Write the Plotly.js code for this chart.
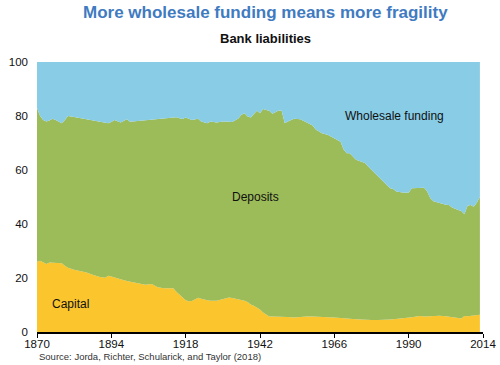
<!DOCTYPE html>
<html>
<head>
<meta charset="utf-8">
<script src="https://cdn.plot.ly/plotly-3.0.1.min.js"></script>
<style>html,body{margin:0;padding:0;background:#fff;}#chart{width:500px;height:365px;}</style>
</head>
<body>
<div id="chart"></div>
<script>
const years = [1870,1871,1872,1873,1874,1875,1876,1878,1879,1880,1882,1884,1886,1888,1890,1892,1893,1894,1895,1897,1899,1900,1901,1903,1905,1907,1909,1911,1914,1915,1916,1917,1918,1919,1920,1922,1923,1925,1926,1928,1930,1932,1933,1935,1936,1937,1938,1939,1940,1941,1942,1943,1944,1945,1946,1947,1948,1949,1950,1951,1953,1955,1957,1959,1960,1962,1964,1966,1968,1969,1970,1971,1973,1975,1976,1977,1978,1980,1982,1984,1985,1986,1988,1990,1991,1993,1994,1995,1996,1997,1998,2000,2002,2003,2004,2006,2007,2008,2009,2010,2011,2012,2013];
// Share of capital (% of liabilities)
const capital = [26,26.4,25.8,25.2,25.7,25.6,25.5,25.5,24.5,23.8,23.1,22.6,22,21.2,20.5,20.1,20.8,20.6,20.2,19.5,18.9,18.7,18.4,18,17.5,17.8,16.6,16.2,16.2,14.9,13.8,12.7,11.8,11.4,11.5,12.7,12.3,11.8,11.6,11.6,12.2,12.8,12.6,12.1,11.9,11.6,11.1,10.2,9.7,9,8.3,7.2,6.4,5.7,5.7,5.7,5.6,5.6,5.7,5.6,5.4,5.6,5.7,5.7,5.7,5.6,5.5,5.4,5.1,5,4.9,4.9,4.7,4.5,4.5,4.4,4.4,4.4,4.4,4.6,4.7,4.8,5.1,5.4,5.5,5.8,5.9,5.7,5.8,5.9,6,6,5.8,5.7,5.5,5.2,5,5.9,5.8,6,6.1,6.3,6.4];
// Capital + deposits (% of liabilities)
const capitalPlusDeposits = [83,80,78.5,78,78.3,79,78.5,77.3,78.5,80,79.6,79.2,78.7,78.3,77.9,77.5,77.3,77.8,78.5,77.6,78.8,77.9,78,78.3,78.4,78.6,78.8,79,79.3,79.5,79.2,78.9,79.4,79,78.5,79,78,77.3,78,77.6,78,77.9,77.8,79.1,80.5,81,79.8,79.4,80.5,81.9,81,82.6,82.2,81.9,80.8,81.5,82,81.9,77.3,78,79,78.8,77.8,76.5,75,73.6,73,71.8,70.5,67.6,66.2,66.2,63.8,63,62.5,61.2,60,57.8,55.5,53.2,53,52,51.7,51.6,53.2,53.3,53.6,53.4,52,49.5,48.4,47.7,47.1,47,46.1,45.2,44.8,43.6,46.8,47,46.4,47.9,50.1];
const deposits = capitalPlusDeposits.map((v,i)=> +(v - capital[i]).toFixed(2));
const wholesale = capitalPlusDeposits.map(v => +(100 - v).toFixed(2));
const xTicks = [1870,1894,1918,1942,1966,1990,2014];
const yTicks = [0,20,40,60,80,100];

const FONT = 'Liberation Sans, Arial, sans-serif';
const base = {x: years, type:'scatter', mode:'lines', stackgroup:'one', line:{width:0}, hoverinfo:'skip'};
const traces = [
  Object.assign({}, base, {name:'Capital', y: capital, fillcolor:'#FBC52E'}),
  Object.assign({}, base, {name:'Deposits', y: deposits, fillcolor:'#9CBB59'}),
  Object.assign({}, base, {name:'Wholesale funding', y: wholesale, fillcolor:'#88CCE6'})
];

const layout = {
  width: 500, height: 365,
  margin: {l:37, r:17, t:62, b:33},
  paper_bgcolor:'#fff', plot_bgcolor:'#fff',
  showlegend:false,
  font:{family:FONT, size:11, color:'#111'},
  xaxis:{
    range:[1870,2014], tickvals:xTicks, ticktext:xTicks.map(String),
    showgrid:false, zeroline:false, showline:true, linecolor:'#000', linewidth:1.5,
    ticks:'outside', ticklen:4, tickcolor:'#000', tickwidth:1,
    tickfont:{family:FONT, size:11.5, color:'#111'}, ticklabelstandoff:-3
  },
  yaxis:{
    range:[0,100], tickvals:yTicks, showgrid:false, zeroline:false, showline:false,
    ticks:'', tickfont:{family:FONT, size:11.5, color:'#111'}, ticklabelstandoff:8
  },
  annotations:[
    {text:'<b>More wholesale funding means more fragility</b>', xref:'paper', yref:'paper',
     x:(265-37)/446, y:1, yshift:50, showarrow:false, xanchor:'center', yanchor:'middle',
     font:{family:FONT, size:17, color:'#3F7BC1'}},
    {text:'<b>Bank liabilities</b>', xref:'paper', yref:'paper',
     x:(265-37)/446, y:1, yshift:24, showarrow:false, xanchor:'center', yanchor:'middle',
     font:{family:FONT, size:13, color:'#111'}},
    {text:'Capital', x:1874.2, y:10.4, xref:'x', yref:'y', showarrow:false, xanchor:'left', yanchor:'middle',
     font:{family:FONT, size:12, color:'#111'}},
    {text:'Deposits', x:1932.3, y:50.1, xref:'x', yref:'y', showarrow:false, xanchor:'left', yanchor:'middle',
     font:{family:FONT, size:12, color:'#111'}},
    {text:'Wholesale funding', x:1968.7, y:80.1, xref:'x', yref:'y', showarrow:false, xanchor:'left', yanchor:'middle',
     font:{family:FONT, size:12, color:'#111'}},
    {text:'Source: Jorda, Richter, Schularick, and Taylor (2018)', xref:'paper', yref:'paper',
     x:0, y:0, xshift:0, yshift:-24, showarrow:false, xanchor:'left', yanchor:'middle',
     font:{family:FONT, size:9.5, color:'#333'}}
  ]
};
Plotly.newPlot('chart', traces, layout, {displayModeBar:false, staticPlot:true});
</script>
</body>
</html>
